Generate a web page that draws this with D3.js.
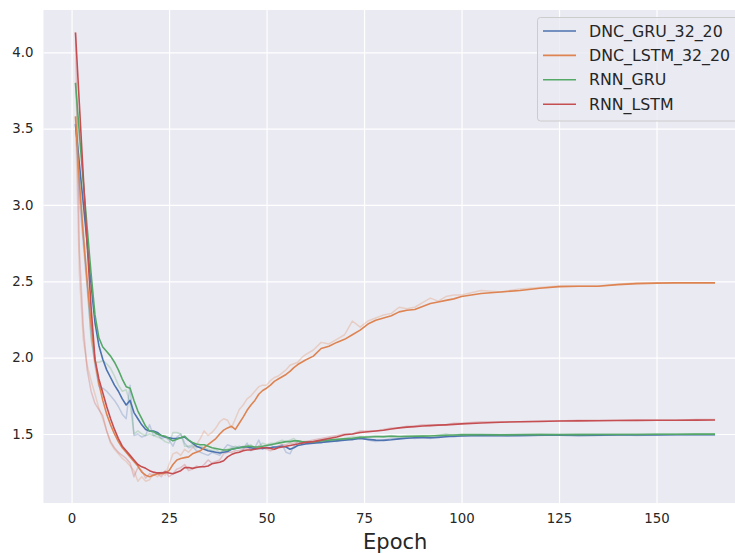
<!DOCTYPE html>
<html>
<head>
<meta charset="utf-8">
<script src="https://cdn.jsdelivr.net/npm/d3@7"></script>
<style>
  html, body { margin: 0; padding: 0; background: #ffffff; }
  svg { display: block; }
  text { font-family: "DejaVu Sans", sans-serif; fill: #262626; }
</style>
</head>
<body>
<svg id="chart" width="735" height="553"></svg>
<script>
// Epochs at which values are recorded (dense early, sparser once curves flatten)
const epochs = [
  1,2,3,4,5,6,7,8,9,10,11,12,13,14,15,16,17,18,19,20,
  21,22,23,24,25,26,27,28,29,30,31,32,33,34,35,36,37,38,39,40,
  41,42,43,44,45,46,47,48,49,50,51,52,53,54,55,56,57,58,59,60,
  62,64,66,68,70,72,74,76,78,80,82,84,86,88,90,92,94,96,98,100,
  105,110,115,120,125,130,135,140,145,150,155,160,165
];

const seriesNames = ["DNC_GRU_32_20", "DNC_LSTM_32_20", "RNN_GRU", "RNN_LSTM"];
const seriesColors = ["#4C72B0", "#DD8452", "#55A868", "#C44E52"];

// Smoothed loss per epoch
const dncGruSmooth = [
  3.53,3.27,3.01,2.75,2.48,2.23,2.08,1.99,1.92,1.87,1.82,1.78,1.73,1.69,1.72,1.64,1.60,1.56,1.53,1.52,
  1.52,1.51,1.49,1.48,1.475,1.47,1.47,1.475,1.48,1.46,1.44,1.42,1.41,1.40,1.39,1.385,1.38,1.375,1.38,1.385,
  1.40,1.405,1.41,1.415,1.415,1.41,1.405,1.405,1.405,1.41,1.41,1.415,1.415,1.42,1.415,1.40,1.41,1.425,1.43,1.435,
  1.44,1.445,1.45,1.455,1.46,1.465,1.47,1.465,1.46,1.458,1.462,1.468,1.472,1.475,1.476,1.475,1.478,1.482,1.485,1.487,
  1.49,1.488,1.49,1.492,1.492,1.49,1.492,1.493,1.493,1.494,1.495,1.495,1.495
];
const dncLstmSmooth = [
  3.58,3.15,2.80,2.50,2.22,1.98,1.83,1.72,1.63,1.56,1.50,1.45,1.41,1.38,1.35,1.32,1.29,1.25,1.23,1.22,
  1.23,1.24,1.24,1.245,1.26,1.30,1.33,1.34,1.345,1.35,1.37,1.38,1.39,1.41,1.43,1.45,1.47,1.50,1.525,1.54,
  1.55,1.53,1.57,1.61,1.655,1.69,1.72,1.76,1.785,1.80,1.82,1.845,1.86,1.875,1.89,1.91,1.935,1.955,1.97,1.985,
  2.01,2.06,2.075,2.10,2.12,2.15,2.18,2.22,2.245,2.26,2.275,2.30,2.31,2.315,2.335,2.355,2.365,2.375,2.385,2.40,
  2.42,2.43,2.44,2.455,2.465,2.468,2.468,2.478,2.485,2.488,2.49,2.49,2.49
];
const rnnGruSmooth = [
  3.80,3.47,3.15,2.85,2.55,2.28,2.13,2.07,2.04,2.01,1.97,1.92,1.86,1.81,1.80,1.72,1.65,1.60,1.55,1.52,
  1.515,1.50,1.49,1.485,1.47,1.455,1.465,1.475,1.485,1.46,1.445,1.435,1.43,1.43,1.42,1.41,1.405,1.40,1.395,1.395,
  1.40,1.405,1.41,1.415,1.42,1.42,1.415,1.415,1.42,1.425,1.43,1.435,1.44,1.445,1.45,1.45,1.455,1.455,1.45,1.448,
  1.448,1.455,1.46,1.465,1.468,1.472,1.478,1.48,1.482,1.483,1.485,1.484,1.484,1.485,1.486,1.487,1.49,1.492,1.493,1.494,
  1.495,1.494,1.495,1.496,1.496,1.496,1.497,1.497,1.497,1.498,1.498,1.499,1.499
];
const rnnLstmSmooth = [
  4.13,3.66,3.19,2.74,2.33,1.99,1.86,1.77,1.68,1.60,1.53,1.47,1.42,1.39,1.36,1.33,1.30,1.285,1.275,1.26,
  1.25,1.245,1.245,1.25,1.245,1.24,1.25,1.26,1.28,1.28,1.275,1.28,1.285,1.285,1.29,1.305,1.31,1.315,1.325,1.35,
  1.365,1.375,1.38,1.39,1.395,1.395,1.40,1.405,1.41,1.41,1.405,1.40,1.41,1.415,1.42,1.425,1.43,1.435,1.44,1.445,
  1.45,1.46,1.47,1.48,1.495,1.50,1.51,1.515,1.52,1.525,1.533,1.54,1.545,1.548,1.552,1.555,1.558,1.56,1.563,1.566,
  1.572,1.577,1.58,1.582,1.585,1.586,1.587,1.588,1.589,1.59,1.59,1.591,1.592
];

// Raw (unsmoothed) loss per epoch
const dncGruRaw = [
  3.53,3.05,2.75,2.45,2.15,1.95,1.81,1.80,1.78,1.75,1.72,1.68,1.63,1.60,1.82,1.49,1.50,1.48,1.49,1.56,
  1.49,1.50,1.47,1.48,1.46,1.42,1.48,1.50,1.44,1.41,1.42,1.39,1.38,1.37,1.36,1.38,1.37,1.36,1.40,1.43,
  1.42,1.41,1.42,1.40,1.44,1.39,1.41,1.46,1.40,1.42,1.43,1.41,1.42,1.43,1.38,1.37,1.42,1.45,1.44,1.44,
  1.45,1.44,1.46,1.45,1.47,1.46,1.48,1.46,1.45,1.46,1.47,1.47,1.48,1.47,1.48,1.47,1.48,1.49,1.48,1.49,
  1.49,1.49,1.485,1.49,1.495,1.49,1.49,1.495,1.49,1.495,1.495,1.495,1.495
];
const dncLstmRaw = [
  3.58,2.55,2.12,1.95,1.85,1.76,1.67,1.60,1.52,1.44,1.40,1.37,1.34,1.32,1.29,1.26,1.19,1.22,1.19,1.20,
  1.24,1.22,1.25,1.23,1.30,1.37,1.38,1.36,1.40,1.38,1.41,1.43,1.47,1.52,1.49,1.51,1.54,1.58,1.60,1.59,
  1.54,1.60,1.66,1.69,1.73,1.75,1.78,1.81,1.82,1.82,1.85,1.87,1.88,1.90,1.92,1.95,1.96,1.97,2.00,2.02,
  2.05,2.10,2.09,2.12,2.15,2.24,2.20,2.24,2.26,2.28,2.29,2.33,2.32,2.33,2.36,2.39,2.37,2.40,2.41,2.41,
  2.44,2.43,2.45,2.46,2.47,2.47,2.47,2.48,2.49,2.49,2.49,2.49,2.49
];
const rnnGruRaw = [
  3.80,3.20,2.85,2.50,2.12,1.97,1.97,1.98,1.96,1.93,1.88,1.82,1.78,1.79,1.70,1.50,1.52,1.50,1.49,1.50,
  1.49,1.48,1.47,1.45,1.44,1.51,1.51,1.50,1.42,1.42,1.43,1.41,1.42,1.41,1.40,1.39,1.40,1.38,1.39,1.40,
  1.41,1.42,1.41,1.42,1.42,1.43,1.40,1.42,1.44,1.43,1.44,1.44,1.45,1.46,1.45,1.46,1.47,1.45,1.44,1.45,
  1.45,1.46,1.47,1.46,1.47,1.48,1.48,1.48,1.49,1.48,1.49,1.48,1.49,1.49,1.49,1.49,1.49,1.50,1.49,1.50,
  1.50,1.495,1.50,1.50,1.495,1.50,1.50,1.50,1.50,1.50,1.50,1.50,1.50
];
const rnnLstmRaw = [
  4.13,2.70,2.20,1.92,1.78,1.70,1.66,1.62,1.52,1.45,1.41,1.38,1.36,1.34,1.31,1.22,1.28,1.26,1.21,1.24,
  1.23,1.24,1.22,1.26,1.22,1.24,1.27,1.28,1.30,1.26,1.27,1.29,1.28,1.30,1.33,1.31,1.32,1.33,1.37,1.38,
  1.38,1.39,1.39,1.40,1.41,1.40,1.41,1.42,1.41,1.40,1.39,1.40,1.42,1.43,1.43,1.44,1.44,1.45,1.45,1.45,
  1.46,1.47,1.48,1.49,1.50,1.50,1.52,1.52,1.52,1.53,1.54,1.54,1.55,1.55,1.56,1.56,1.56,1.56,1.57,1.57,
  1.58,1.58,1.58,1.585,1.585,1.59,1.59,1.59,1.59,1.59,1.59,1.595,1.595
];

const smoothSeries = [dncGruSmooth, dncLstmSmooth, rnnGruSmooth, rnnLstmSmooth];
const rawSeries = [dncGruRaw, dncLstmRaw, rnnGruRaw, rnnLstmRaw];

const xTicks = [0, 25, 50, 75, 100, 125, 150];
const yTicks = [1.5, 2.0, 2.5, 3.0, 3.5, 4.0];
const xLabel = "Epoch";

// Layout
const plot = { left: 43.5, top: 10, right: 747, bottom: 503 };

const svg = d3.select("#chart");

const x = d3.scaleLinear().domain([-7.2, 173.2]).range([plot.left, plot.right]);
const y = d3.scaleLinear().domain([1.048, 4.277]).range([plot.bottom, plot.top]);

// Background panel
svg.append("rect")
  .attr("x", plot.left).attr("y", plot.top)
  .attr("width", plot.right - plot.left).attr("height", plot.bottom - plot.top)
  .attr("fill", "#EAEAF2");

// Grid lines and tick labels via axes
const xAxis = d3.axisBottom(x).tickValues(xTicks).tickSize(-(plot.bottom - plot.top)).tickPadding(10)
  .tickFormat(d3.format("d"));
const yAxis = d3.axisLeft(y).tickValues(yTicks).tickSize(-(plot.right - plot.left)).tickPadding(10)
  .tickFormat(d3.format(".1f"));

const gx = svg.append("g").attr("transform", `translate(0,${plot.bottom})`).call(xAxis);
const gy = svg.append("g").attr("transform", `translate(${plot.left},0)`).call(yAxis);

[gx, gy].forEach(g => {
  g.select(".domain").remove();
  g.selectAll(".tick line").attr("stroke", "#ffffff").attr("stroke-width", 1.2);
  g.selectAll(".tick text")
    .style("font-family", "DejaVu Sans, sans-serif")
    .style("font-size", "13.3px")
    .attr("fill", "#262626");
});
gx.selectAll(".tick text").attr("dy", "0.71em").attr("y", 11);
gy.selectAll(".tick text").attr("x", -10);

// Clip lines to the plotting panel
svg.append("clipPath").attr("id", "panel")
  .append("rect")
  .attr("x", plot.left).attr("y", plot.top)
  .attr("width", plot.right - plot.left).attr("height", plot.bottom - plot.top);

const line = d3.line()
  .x((d, i) => x(epochs[i]))
  .y(d => y(d));

const lines = svg.append("g").attr("clip-path", "url(#panel)");

seriesNames.forEach((name, k) => {
  lines.append("path")
    .datum(rawSeries[k])
    .attr("d", line)
    .attr("fill", "none")
    .attr("stroke", seriesColors[k])
    .attr("stroke-opacity", 0.28)
    .attr("stroke-width", 1.5)
    .attr("stroke-linejoin", "round");
});
seriesNames.forEach((name, k) => {
  lines.append("path")
    .datum(smoothSeries[k])
    .attr("d", line)
    .attr("fill", "none")
    .attr("stroke", seriesColors[k])
    .attr("stroke-width", 1.6)
    .attr("stroke-linejoin", "round");
});

// Axis title
svg.append("text")
  .attr("x", (plot.left + plot.right) / 2)
  .attr("y", 549)
  .attr("text-anchor", "middle")
  .style("font-size", "21px")
  .text(xLabel);

// Legend
const legend = svg.append("g");
legend.append("rect")
  .attr("x", 537.5).attr("y", 17.5)
  .attr("width", 210).attr("height", 103.5)
  .attr("rx", 3)
  .attr("fill", "#EAEAF2").attr("fill-opacity", 0.8)
  .attr("stroke", "#cccccc").attr("stroke-width", 1);

seriesNames.forEach((name, k) => {
  const cy = 31 + k * 24.4;
  legend.append("line")
    .attr("x1", 543).attr("x2", 576)
    .attr("y1", cy).attr("y2", cy)
    .attr("stroke", seriesColors[k]).attr("stroke-width", 1.6);
  legend.append("text")
    .attr("x", 589).attr("y", cy + 5.6)
    .style("font-size", "15.8px")
    .text(name);
});
</script>
</body>
</html>
